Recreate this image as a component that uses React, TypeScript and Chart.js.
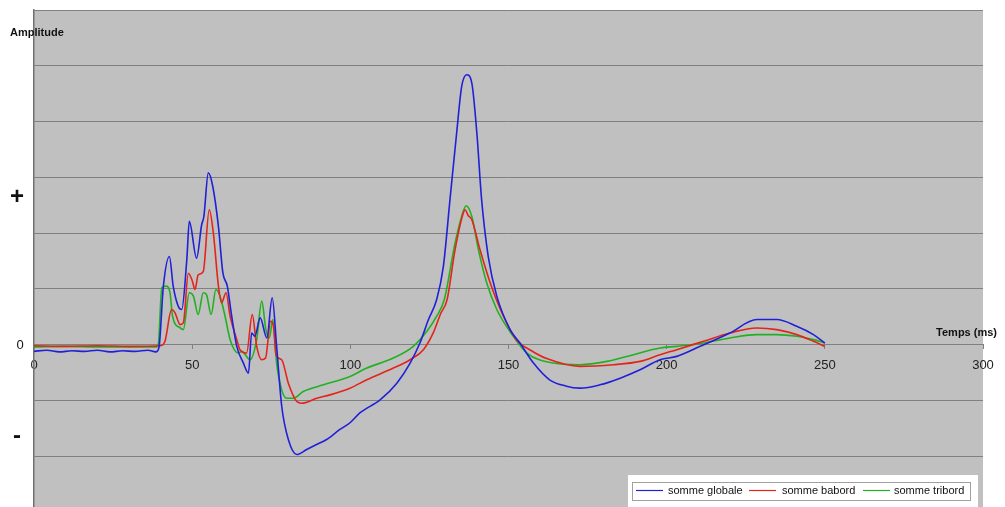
import React, { useEffect, useRef } from "react";
import { Chart, registerables } from "chart.js";

Chart.register(...registerables);

// ---- data (time in ms, amplitude in grid units) ----
const globaleT = [0, 4, 8, 12, 16, 20, 24, 28, 32, 36, 38.5, 39.5, 40.9, 42.8, 44.0, 45.6, 46.7, 48.3, 49.1, 51.4, 53.0, 53.7, 55.1, 56.5, 58.3, 59.7, 61.1, 62.5, 64.1, 66.2, 67.8, 68.8, 69.8, 71.5, 73.6, 75.3, 76.7, 78.3, 80.4, 83.1, 86.2, 89.0, 92.5, 96.7, 99.9, 103.1, 109.4, 114.7, 118.9, 122.0, 124.7, 127.3, 129.4, 131.5, 133.6, 135.2, 136.8, 138.4, 140.0, 141.5, 143.6, 146.3, 150.5, 153.6, 157.9, 163.0, 168.0, 172.6, 178.9, 185.3, 191.6, 197.9, 203.2, 210.6, 220.0, 228.5, 234.8, 241.1, 246.4, 250.0];
const globaleV = [-0.12, -0.1, -0.13, -0.11, -0.12, -0.1, -0.13, -0.11, -0.12, -0.1, -0.13, -0.05, 1.05, 1.58, 1.05, 0.69, 0.63, 1.52, 2.21, 1.55, 2.15, 2.3, 3.08, 2.84, 2.12, 1.29, 1.05, 0.51, -0.03, -0.33, -0.51, 0.21, 0.15, 0.48, 0.12, 0.84, -0.03, -1.1, -1.7, -1.97, -1.88, -1.8, -1.7, -1.52, -1.4, -1.22, -0.99, -0.69, -0.33, 0.03, 0.45, 0.81, 1.4, 2.6, 3.79, 4.63, 4.84, 4.69, 3.79, 2.6, 1.58, 0.87, 0.27, 0.03, -0.33, -0.63, -0.74, -0.78, -0.72, -0.6, -0.45, -0.27, -0.21, -0.03, 0.21, 0.45, 0.45, 0.33, 0.18, 0.03];

const babordT = [0, 10, 20, 30, 40, 41.4, 43.5, 44.5, 46.2, 47.2, 48.8, 50.0, 50.9, 51.9, 53.5, 55.4, 56.7, 58.3, 59.3, 60.7, 62.0, 64.1, 65.1, 67.2, 69.0, 70.4, 72.0, 73.2, 74.8, 75.7, 76.5, 78.3, 80.4, 83.1, 84.6, 89.4, 93.6, 99.9, 105.2, 113.6, 118.9, 123.1, 126.2, 128.5, 130.6, 133.1, 135.7, 136.3, 137.2, 138.4, 141.0, 144.2, 148.4, 152.5, 157.0, 162.1, 172.6, 183.2, 191.6, 197.9, 203.2, 211.6, 220.0, 228.5, 234.8, 241.1, 246.4, 250.0];
const babordV = [-0.02, -0.03, -0.02, -0.03, -0.02, 0.06, 0.63, 0.58, 0.36, 0.39, 1.28, 1.15, 0.99, 1.25, 1.31, 2.42, 2.0, 1.05, 0.75, 0.93, 0.51, 0.09, -0.09, -0.15, 0.54, -0.03, -0.27, -0.24, 0.42, 0.33, -0.18, -0.27, -0.69, -1.02, -1.05, -0.96, -0.9, -0.78, -0.63, -0.42, -0.27, -0.09, 0.21, 0.55, 0.81, 1.7, 2.36, 2.42, 2.32, 2.24, 1.7, 1.11, 0.51, 0.09, -0.1, -0.25, -0.39, -0.36, -0.3, -0.18, -0.09, 0.06, 0.21, 0.3, 0.27, 0.18, 0.06, -0.03];

const tribordT = [0, 10, 20, 30, 38.8, 39.3, 40.4, 41.9, 43.0, 43.8, 46.2, 47.2, 49.1, 50.4, 51.9, 53.5, 54.5, 56.0, 57.5, 58.8, 60.4, 62.0, 64.6, 65.7, 68.3, 70.4, 72.0, 73.3, 74.4, 75.5, 76.7, 78.3, 79.9, 82.0, 85.1, 91.5, 99.9, 105.2, 113.6, 119.9, 124.2, 127.3, 129.7, 133.1, 135.2, 136.6, 138.4, 140.5, 143.1, 146.3, 151.5, 155.8, 164.2, 172.6, 181.1, 189.5, 197.9, 203.2, 211.6, 220.0, 228.5, 234.8, 241.1, 246.4, 250.0];
const tribordV = [-0.04, -0.03, -0.04, -0.04, -0.04, 0.0, 1.02, 1.05, 0.93, 0.51, 0.3, 0.27, 0.93, 0.87, 0.54, 0.93, 0.9, 0.54, 0.99, 0.87, 0.51, 0.09, -0.15, -0.12, -0.27, 0.09, 0.78, 0.27, 0.12, 0.45, -0.33, -0.81, -0.96, -0.96, -0.84, -0.72, -0.57, -0.42, -0.24, -0.03, 0.24, 0.51, 0.81, 1.82, 2.3, 2.49, 2.3, 1.7, 1.11, 0.63, 0.15, -0.15, -0.33, -0.36, -0.3, -0.18, -0.06, -0.03, 0.03, 0.12, 0.18, 0.18, 0.15, 0.09, 0.03];

const seriesNames = ["somme globale", "somme babord", "somme tribord"];
const seriesColors = ["#2020d8", "#e4241c", "#22b022"];

const xTickValues = [0, 50, 100, 150, 200, 250, 300];
const yMarkValues = [2.65, 0, -1.63];
const yMarkLabels = ["+", "0", "-"];
const yAxisTitle = "Amplitude";
const xAxisTitle = "Temps (ms)";

const toPoints = (t: number[], v: number[]) => t.map((x, i) => ({ x, y: v[i] }));

const FONT = "'Liberation Sans', Arial, sans-serif";

const decorPlugin = {
  id: "decor",
  beforeDraw(chart: any) {
    const { ctx, chartArea } = chart;
    ctx.save();
    ctx.fillStyle = "#ffffff";
    ctx.fillRect(0, 0, chart.width, chart.height);
    ctx.fillStyle = "#c0c0c0";
    ctx.fillRect(chartArea.left, chartArea.top, chartArea.right - chartArea.left, chartArea.bottom - chartArea.top);
    ctx.restore();
  },
  afterDraw(chart: any) {
    const { ctx } = chart;
    const ys = chart.scales.y;
    ctx.save();
    // y marks
    ctx.fillStyle = "#111";
    ctx.textBaseline = "middle";
    ctx.textAlign = "center";
    yMarkLabels.forEach((lab, i) => {
      const py = ys.getPixelForValue(yMarkValues[i]);
      if (lab === "0") {
        ctx.font = `13px ${FONT}`;
        ctx.fillText(lab, 20, py + 1);
      } else {
        ctx.font = `bold 24px ${FONT}`;
        ctx.fillText(lab, 17, py + 1);
      }
    });
    // axis titles
    ctx.font = `bold 11px ${FONT}`;
    ctx.textAlign = "left";
    ctx.fillText(yAxisTitle, 10, 33);
    ctx.textAlign = "right";
    ctx.fillText(xAxisTitle, 997, 333);

    // legend
    const lx = 628, ly = 475;
    ctx.fillStyle = "#ffffff";
    ctx.fillRect(lx, ly, 350, 34);
    ctx.strokeStyle = "#a0a0a0";
    ctx.lineWidth = 1;
    ctx.strokeRect(632.5, 482.5, 338, 18);
    const lineStarts = [636, 749, 863];
    const textStarts = [668, 782, 894];
    ctx.font = `11px ${FONT}`;
    ctx.textAlign = "left";
    ctx.textBaseline = "middle";
    seriesNames.forEach((name, i) => {
      ctx.strokeStyle = seriesColors[i];
      ctx.lineWidth = 1.2;
      ctx.beginPath();
      ctx.moveTo(lineStarts[i], 490.5);
      ctx.lineTo(lineStarts[i] + 27, 490.5);
      ctx.stroke();
      ctx.fillStyle = "#111";
      ctx.fillText(name, textStarts[i], 491);
    });
    ctx.restore();
  },
};

export default function App() {
  const ref = useRef<HTMLCanvasElement | null>(null);
  useEffect(() => {
    if (!ref.current) return;
    const series = [toPoints(globaleT, globaleV), toPoints(babordT, babordV), toPoints(tribordT, tribordV)];
    const chart = new Chart(ref.current, {
      type: "line",
      data: {
        datasets: series.map((d, i) => ({
          label: seriesNames[i],
          data: d,
          borderColor: seriesColors[i],
          backgroundColor: seriesColors[i],
          borderWidth: 1.6,
          pointRadius: 0,
          cubicInterpolationMode: "monotone" as const,
          fill: false,
        })),
      },
      options: {
        animation: false,
        responsive: false,
        devicePixelRatio: 1,
        layout: { padding: { left: 34, top: 10, right: 22, bottom: 8 } },
        plugins: { legend: { display: false }, tooltip: { enabled: false } },
        scales: {
          x: {
            type: "linear",
            min: 0,
            max: 300,
            position: { y: 0 } as any,
            afterBuildTicks: (s: any) => {
              s.ticks = xTickValues.map((v) => ({ value: v }));
            },
            ticks: {
              font: { size: 13, family: FONT },
              color: "#222",
              padding: 9,
              maxRotation: 0,
              autoSkip: false,
            },
            grid: { drawOnChartArea: false, drawTicks: true, tickLength: 4, color: "#808080" },
            border: { display: true, color: "#808080", width: 1 },
          },
          y: {
            type: "linear",
            min: -3,
            max: 6,
            ticks: { display: false, stepSize: 1 },
            grid: { color: "#808080", lineWidth: 1, drawTicks: false },
            border: { display: true, color: "#707070", width: 1.5 },
            afterFit: (s: any) => {
              s.width = 0;
            },
          },
        },
      },
      plugins: [decorPlugin],
    });
    return () => chart.destroy();
  }, []);
  return (
    <div style={{ position: "fixed", left: 0, top: 0, width: 1005, height: 520 }}>
      <canvas ref={ref} width={1005} height={520} style={{ display: "block" }} />
    </div>
  );
}
